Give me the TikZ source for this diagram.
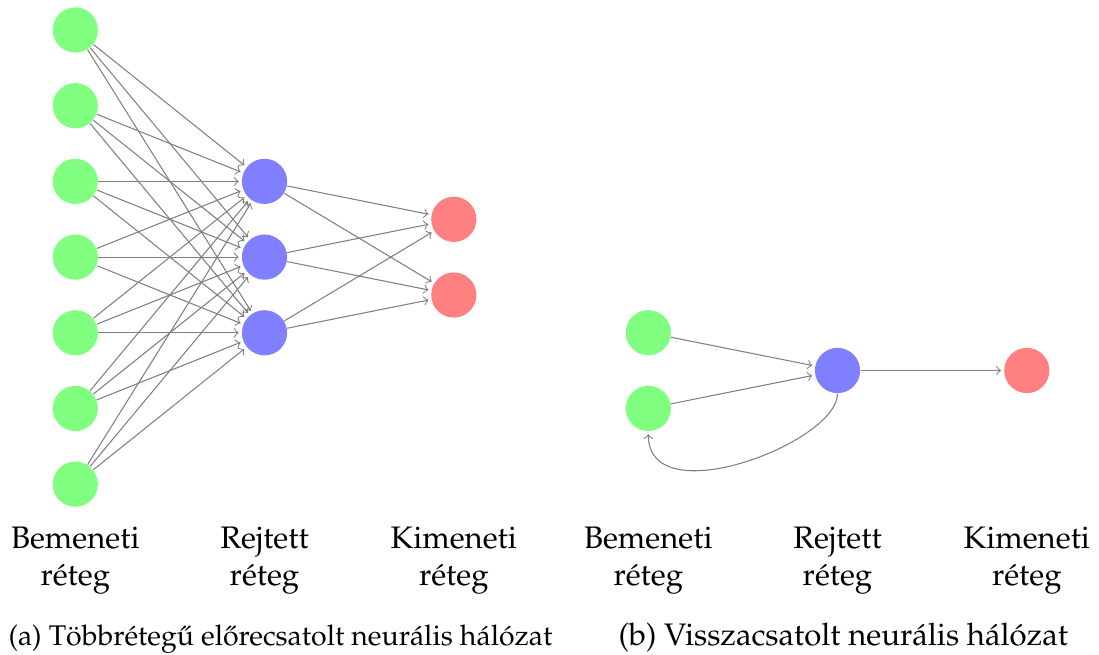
\documentclass[tikz,border=0pt]{standalone}
\usepackage[T1]{fontenc}
\usepackage{mathpazo}
\begin{document}
\begin{tikzpicture}[x=0.013210cm, y=-0.013210cm,
  neuron/.style={circle, inner sep=0pt, minimum size=17pt, draw=none},
  innode/.style={neuron, fill=green!50},
  hidnode/.style={neuron, fill=blue!50},
  outnode/.style={neuron, fill=red!50},
  conn/.style={->, draw=black!50, shorten >=1pt},
  layerlabel/.style={align=center, anchor=base, inner sep=0pt, font=\fontsize{11.7}{13.9}\selectfont},
  captext/.style={anchor=base west, inner sep=0pt}]
\useasboundingbox (0,0) rectangle (1099,655);

% (a) feed-forward network
\foreach \k in {1,...,7}
  \node[innode] (I\k) at (75.3, {30+75.7*(\k-1)}) {};
\foreach \k in {1,2,3}
  \node[hidnode] (H\k) at (264.5, {181.4+75.7*(\k-1)}) {};
\foreach \k in {1,2}
  \node[outnode] (O\k) at (453.8, {219.3+75.7*(\k-1)}) {};
\foreach \i in {1,...,7}
  \foreach \j in {1,2,3}
    \draw[conn] (I\i) -- (H\j);
\foreach \i in {1,2,3}
  \foreach \j in {1,2}
    \draw[conn] (H\i) -- (O\j);

\node[layerlabel] (la1) at (75.3, 585.5) {Bemeneti\\r\'eteg};
\node[layerlabel] (la2) at (264.5, 585.5) {Rejtett\\r\'eteg};
\node[layerlabel] (la3) at (453.8, 585.5) {Kimeneti\\r\'eteg};
\node[captext, font=\fontsize{10.7}{13}\selectfont] (capa) at (8, 645)
  {(a) T\"obbr\'eteg\H{u} el\H{o}recsatolt neur\'alis h\'al\'ozat};

% (b) recurrent network
\node[innode] (RI1) at (648.3, 332.7) {};
\node[innode] (RI2) at (648.3, 408.4) {};
\node[hidnode] (RH) at (837.5, 370.5) {};
\node[outnode] (RO) at (1026.8, 370.5) {};
\draw[conn] (RI1) -- (RH);
\draw[conn] (RI2) -- (RH);
\draw[conn] (RH) -- (RO);
\draw[conn] (RH) to[out=-90, in=-90, out looseness=0.65, in looseness=1.1] (RI2);

\node[layerlabel] (lb1) at (648.3, 585.5) {Bemeneti\\r\'eteg};
\node[layerlabel] (lb2) at (837.5, 585.5) {Rejtett\\r\'eteg};
\node[layerlabel] (lb3) at (1026.8, 585.5) {Kimeneti\\r\'eteg};
\node[captext, font=\fontsize{11.7}{13.9}\selectfont] (capb) at (618, 645)
  {(b) Visszacsatolt neur\'alis h\'al\'ozat};
\end{tikzpicture}
\end{document}
